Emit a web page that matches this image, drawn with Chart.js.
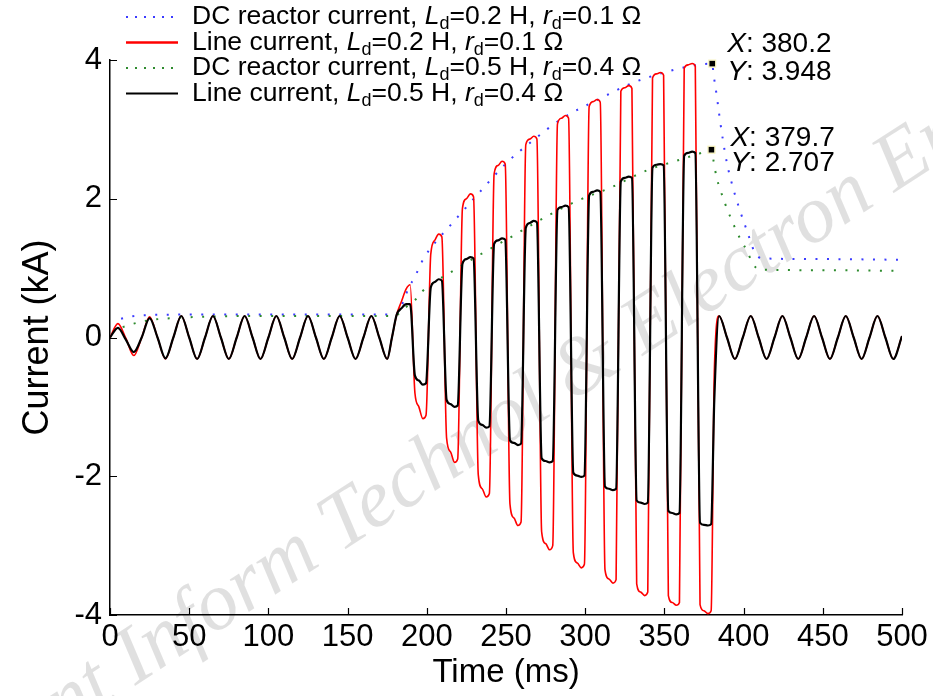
<!DOCTYPE html>
<html>
<head>
<meta charset="utf-8">
<script src="https://cdn.jsdelivr.net/npm/chart.js@4.4.1/dist/chart.umd.min.js"></script>
<style>
  html, body { margin: 0; padding: 0; background: #fff; }
</style>
</head>
<body>
<canvas id="myChart" width="933" height="696"></canvas>
<script>
// time (ms)
const tLine = [
  0, 5, 10, 15, 20, 25, 30, 35, 40, 45, 50, 55, 60, 65, 70, 75, 80, 85, 90, 95,
  100, 105, 110, 115, 120, 125, 130, 135, 140, 145, 150, 155, 160, 165, 170, 175,
  178, 181, 184, 187, 189.5, 192.5, 195, 197.5, 199.5,
  202.5, 205, 207.5, 209.5, 212.5, 215, 217.5, 219.5,
  222.5, 225, 227.5, 229.5, 232.5, 235, 237.5, 239.5,
  242.5, 245, 247.5, 249.5, 252.5, 255, 257.5, 259.5,
  262.5, 265, 267.5, 269.5, 272.5, 275, 277.5, 279.5,
  282.5, 285, 287.5, 289.5, 292.5, 295, 297.5, 299.5,
  302.5, 305, 307.5, 309.5, 312.5, 315, 317.5, 319.5,
  322.5, 325, 327.5, 329.5, 332.5, 335, 337.5, 339.5,
  342.5, 345, 347.5, 349.5, 352.5, 355, 357.5, 359.5,
  362.5, 365, 367.5, 369.5, 372.5, 375, 377.5, 379.5,
  381.5, 384.5, 389.5, 394.5, 399.5, 404.5, 409.5, 414.5, 419.5, 424.5, 429.5,
  434.5, 439.5, 444.5, 449.5, 454.5, 459.5, 464.5, 469.5, 474.5, 479.5, 484.5,
  489.5, 494.5, 500
];

// line current (kA), Ld=0.2 H, rd=0.1 ohm
const iLine02 = [
  0, 0.2, -0.01, -0.26, 0, 0.3, 0, -0.31, 0, 0.31, 0, -0.31, 0, 0.31, 0, -0.31, 0, 0.31, 0, -0.31,
  0, 0.31, 0, -0.31, 0, 0.31, 0, -0.31, 0, 0.31, 0, -0.31, 0, 0.31, 0, -0.31,
  0.0, 0.33, 0.52, 0.7, 0.76, -0.8, -1.0, -1.17, -1.12,
  1.2, 1.4, 1.49, 1.45, -1.45, -1.65, -1.8, -1.75,
  1.86, 2.0, 2.07, 2.03, -1.98, -2.18, -2.3, -2.25,
  2.36, 2.48, 2.54, 2.5, -2.4, -2.6, -2.71, -2.66,
  2.78, 2.86, 2.9, 2.86, -2.8, -2.97, -3.06, -3.0,
  3.08, 3.16, 3.2, 3.16, -3.1, -3.25, -3.32, -3.27,
  3.33, 3.4, 3.43, 3.39, -3.35, -3.48, -3.54, -3.49,
  3.55, 3.6, 3.63, 3.59, -3.55, -3.67, -3.72, -3.67,
  3.74, 3.8, 3.82, 3.78, -3.72, -3.82, -3.86, -3.82,
  3.88, 3.93, 3.95, 3.91, -3.85, -3.94, -3.98, -3.94,
  -0.5, 0.31, 0, -0.31, 0, 0.31, 0, -0.31, 0, 0.31, 0,
  -0.31, 0, 0.31, 0, -0.31, 0, 0.31, 0, -0.31, 0, 0.31,
  0, -0.31, 0.02
];

// line current (kA), Ld=0.5 H, rd=0.4 ohm
const iLine05 = [
  0, 0.14, -0.03, -0.21, 0, 0.28, 0, -0.3, 0, 0.31, 0, -0.31, 0, 0.31, 0, -0.31, 0, 0.31, 0, -0.31,
  0, 0.31, 0, -0.31, 0, 0.31, 0, -0.31, 0, 0.31, 0, -0.31, 0, 0.31, 0, -0.31,
  0.0, 0.33, 0.42, 0.48, 0.48, -0.55, -0.62, -0.68, -0.66,
  0.72, 0.8, 0.84, 0.82, -0.9, -0.96, -1.0, -0.98,
  1.06, 1.13, 1.16, 1.14, -1.2, -1.26, -1.3, -1.28,
  1.35, 1.4, 1.43, 1.41, -1.48, -1.52, -1.55, -1.53,
  1.58, 1.65, 1.68, 1.66, -1.74, -1.78, -1.8, -1.78,
  1.84, 1.88, 1.9, 1.88, -1.95, -1.99, -2.01, -1.99,
  2.05, 2.1, 2.12, 2.1, -2.15, -2.18, -2.2, -2.18,
  2.25, 2.3, 2.32, 2.3, -2.35, -2.38, -2.4, -2.38,
  2.45, 2.49, 2.5, 2.48, -2.5, -2.53, -2.55, -2.53,
  2.62, 2.66, 2.68, 2.66, -2.67, -2.7, -2.71, -2.69,
  -0.9, 0.31, 0, -0.31, 0, 0.31, 0, -0.31, 0, 0.31, 0,
  -0.31, 0, 0.31, 0, -0.31, 0, 0.31, 0, -0.31, 0, 0.31,
  0, -0.31, 0.02
];

// DC reactor current, Ld=0.2 H
const tDc02 = [7, 12, 20, 50, 100, 150, 180, 183, 186, 189, 192, 195, 198, 205, 215, 232, 251, 267, 285, 309,
  330, 350, 368, 380.2, 381, 383.2, 385.1, 387, 389.5, 393.3, 397.7, 402.1, 407.2, 412, 450, 500];
const iDc02 = [0.27, 0.3, 0.32, 0.33, 0.33, 0.33, 0.33, 0.4, 0.57, 0.74, 0.85, 1.0, 1.14, 1.36, 1.62, 2.06, 2.53, 2.84, 3.15, 3.44,
  3.67, 3.82, 3.92, 3.948, 3.8, 3.46, 3.13, 2.84, 2.51, 2.16, 1.83, 1.54, 1.22, 1.14, 1.13, 1.12];

// DC reactor current, Ld=0.5 H
const tDc05 = [8, 15, 25, 40, 60, 100, 150, 180, 183, 186, 190, 194, 197, 205, 215, 234, 254, 276, 295, 316,
  339, 358, 372, 379.7, 381, 383, 385, 388.3, 391.4, 394.6, 397.7, 402.1, 406, 410, 450, 500];
const iDc05 = [0.15, 0.2, 0.25, 0.28, 0.3, 0.31, 0.31, 0.31, 0.36, 0.42, 0.5, 0.57, 0.66, 0.8, 0.94, 1.2, 1.46, 1.75, 1.97, 2.16,
  2.41, 2.55, 2.65, 2.707, 2.55, 2.3, 2.15, 1.93, 1.75, 1.58, 1.43, 1.25, 1.06, 0.98, 0.97, 0.96];

const xTicks = [0, 50, 100, 150, 200, 250, 300, 350, 400, 450, 500];
const yTicks = [-4, -2, 0, 2, 4];

// data tips shown on the figure
const tipX = [380.2, 379.7];
const tipY = [3.948, 2.707];

const FONT = '"Liberation Sans", Arial, sans-serif';

function zip(xs, ys) {
  return xs.map((x, i) => ({ x: x, y: ys[i] }));
}

// legend rows: [style, color, name, Ld, rd]
const legendRows = [
  ["dot", "#3b3bff", "DC reactor current, ", "0.2", "0.1"],
  ["line", "#ff0000", "Line current, ", "0.2", "0.1"],
  ["dot", "#2e8b2e", "DC reactor current, ", "0.5", "0.4"],
  ["line", "#000000", "Line current, ", "0.5", "0.4"],
];

function drawParts(ctx, x, y, parts, size) {
  parts.forEach((p) => {
    const fs = p.sub ? Math.round(size * 0.68) : size;
    ctx.font = (p.it ? "italic " : "") + fs + "px " + FONT;
    ctx.fillText(p.t, x, y + (p.sub ? size * 0.28 : 0));
    x += ctx.measureText(p.t).width;
  });
}

const overlayPlugin = {
  id: "overlay",
  beforeDraw(chart) {
    // journal watermark
    const ctx = chart.ctx;
    ctx.save();
    ctx.translate(572, 402);
    ctx.rotate(-33 * Math.PI / 180);
    ctx.font = "italic 82px \"Liberation Serif\", serif";
    ctx.fillStyle = "rgba(0,0,0,0.12)";
    ctx.textBaseline = "alphabetic";
    ctx.textAlign = "right";
    ctx.fillText("Front Inform Technol ", 0, 0);
    ctx.textAlign = "left";
    ctx.fillText("& Electron Eng", 0, 0);
    ctx.restore();
  },
  afterDraw(chart) {
    const ctx = chart.ctx;
    const xs = chart.scales.x;
    const ys = chart.scales.y;
    const area = chart.chartArea;
    ctx.save();

    // inward tick marks
    ctx.strokeStyle = "#000";
    ctx.lineWidth = 1.2;
    ctx.beginPath();
    xTicks.forEach((v) => {
      const px = Math.round(xs.getPixelForValue(v)) + 0.5;
      ctx.moveTo(px, area.bottom);
      ctx.lineTo(px, area.bottom - 7);
    });
    yTicks.forEach((v) => {
      const py = Math.round(ys.getPixelForValue(v)) + 0.5;
      ctx.moveTo(area.left, py);
      ctx.lineTo(area.left + 7, py);
    });
    ctx.stroke();

    // legend
    ctx.textBaseline = "middle";
    ctx.fillStyle = "#000";
    legendRows.forEach((row, i) => {
      const y = 17 + i * 25.5;
      ctx.strokeStyle = row[1];
      if (row[0] === "dot") {
        ctx.lineWidth = 2;
        ctx.setLineDash([2, 7]);
      } else {
        ctx.lineWidth = row[1] === "#000000" ? 2 : 2.5;
        ctx.setLineDash([]);
      }
      ctx.beginPath();
      ctx.moveTo(126, y);
      ctx.lineTo(178, y);
      ctx.stroke();
      ctx.setLineDash([]);
      drawParts(ctx, 192, y, [
        { t: row[2] }, { t: "L", it: true }, { t: "d", sub: true },
        { t: "=" + row[3] + " H, " }, { t: "r", it: true }, { t: "d", sub: true },
        { t: "=" + row[4] + " \u03A9" },
      ], 26.5);
    });

    // data tips
    const tipDx = [15, 19];
    const tipUp = [19, 11];
    const tipDown = [9, 14];
    tipX.forEach((tx, i) => {
      const px = xs.getPixelForValue(tx);
      const py = ys.getPixelForValue(tipY[i]);
      ctx.fillStyle = "#000";
      ctx.strokeStyle = "#f5f0b0";
      ctx.lineWidth = 1;
      ctx.fillRect(px - 3, py - 3, 6, 6);
      ctx.strokeRect(px - 3.5, py - 3.5, 7, 7);
      const lx = px + tipDx[i];
      drawParts(ctx, lx, py - tipUp[i], [{ t: "X", it: true }, { t: ": " + tx.toFixed(1) }], 28);
      drawParts(ctx, lx, py + tipDown[i], [{ t: "Y", it: true }, { t: ": " + tipY[i].toFixed(3) }], 28);
    });
    ctx.restore();
  },
};

const ctx = document.getElementById("myChart").getContext("2d");
const chartInstance = new Chart(ctx, {
  type: "line",
  data: {
    datasets: [
      {
        label: "DC reactor current, Ld=0.2 H, rd=0.1 \u03A9",
        data: zip(tDc02, iDc02),
        borderColor: "#3b3bff",
        borderWidth: 2,
        borderDash: [2, 9.5],
        pointRadius: 0,
        cubicInterpolationMode: "monotone",
        order: 3,
      },
      {
        label: "Line current, Ld=0.2 H, rd=0.1 \u03A9",
        data: zip(tLine, iLine02),
        borderColor: "#ff0000",
        borderWidth: 1.6,
        pointRadius: 0,
        cubicInterpolationMode: "monotone",
        order: 2,
      },
      {
        label: "DC reactor current, Ld=0.5 H, rd=0.4 \u03A9",
        data: zip(tDc05, iDc05),
        borderColor: "#2e8b2e",
        borderWidth: 2,
        borderDash: [2, 9.5],
        pointRadius: 0,
        cubicInterpolationMode: "monotone",
        order: 1,
      },
      {
        label: "Line current, Ld=0.5 H, rd=0.4 \u03A9",
        data: zip(tLine, iLine05),
        borderColor: "#000000",
        borderWidth: 2.2,
        pointRadius: 0,
        cubicInterpolationMode: "monotone",
        order: 0,
      },
    ],
  },
  options: {
    responsive: false,
    animation: false,
    devicePixelRatio: 1,
    layout: { padding: { top: 60, right: 31, left: 0, bottom: 0 } },
    plugins: {
      legend: { display: false },
      tooltip: { enabled: false },
    },
    scales: {
      x: {
        type: "linear",
        min: 0,
        max: 500,
        afterBuildTicks(scale) {
          scale.ticks = xTicks.map((v) => ({ value: v }));
        },
        afterFit(scale) {
          scale.height = 81;
          scale.paddingLeft = 0;
          scale.paddingRight = 0;
        },
        grid: { display: false, drawTicks: false },
        border: { display: true, color: "#000", width: 1.5 },
        ticks: {
          color: "#000",
          font: { family: FONT, size: 31 },
          padding: 4,
          maxRotation: 0,
          autoSkip: false,
        },
        title: {
          display: true,
          text: "Time (ms)",
          color: "#000",
          font: { family: FONT, size: 33 },
          padding: { top: 0, bottom: 3 },
        },
      },
      y: {
        type: "linear",
        min: -4,
        max: 4,
        afterBuildTicks(scale) {
          scale.ticks = yTicks.map((v) => ({ value: v }));
        },
        afterFit(scale) {
          scale.width = 110;
          scale.paddingTop = 0;
          scale.paddingBottom = 0;
        },
        grid: { display: false, drawTicks: false },
        border: { display: true, color: "#000", width: 1.5 },
        ticks: {
          color: "#000",
          font: { family: FONT, size: 31 },
          padding: 8,
          autoSkip: false,
        },
        title: {
          display: true,
          text: "Current (kA)",
          color: "#000",
          font: { family: FONT, size: 36 },
          padding: { top: 16, bottom: 0 },
        },
      },
    },
  },
  plugins: [overlayPlugin],
});
</script>
</body>
</html>
